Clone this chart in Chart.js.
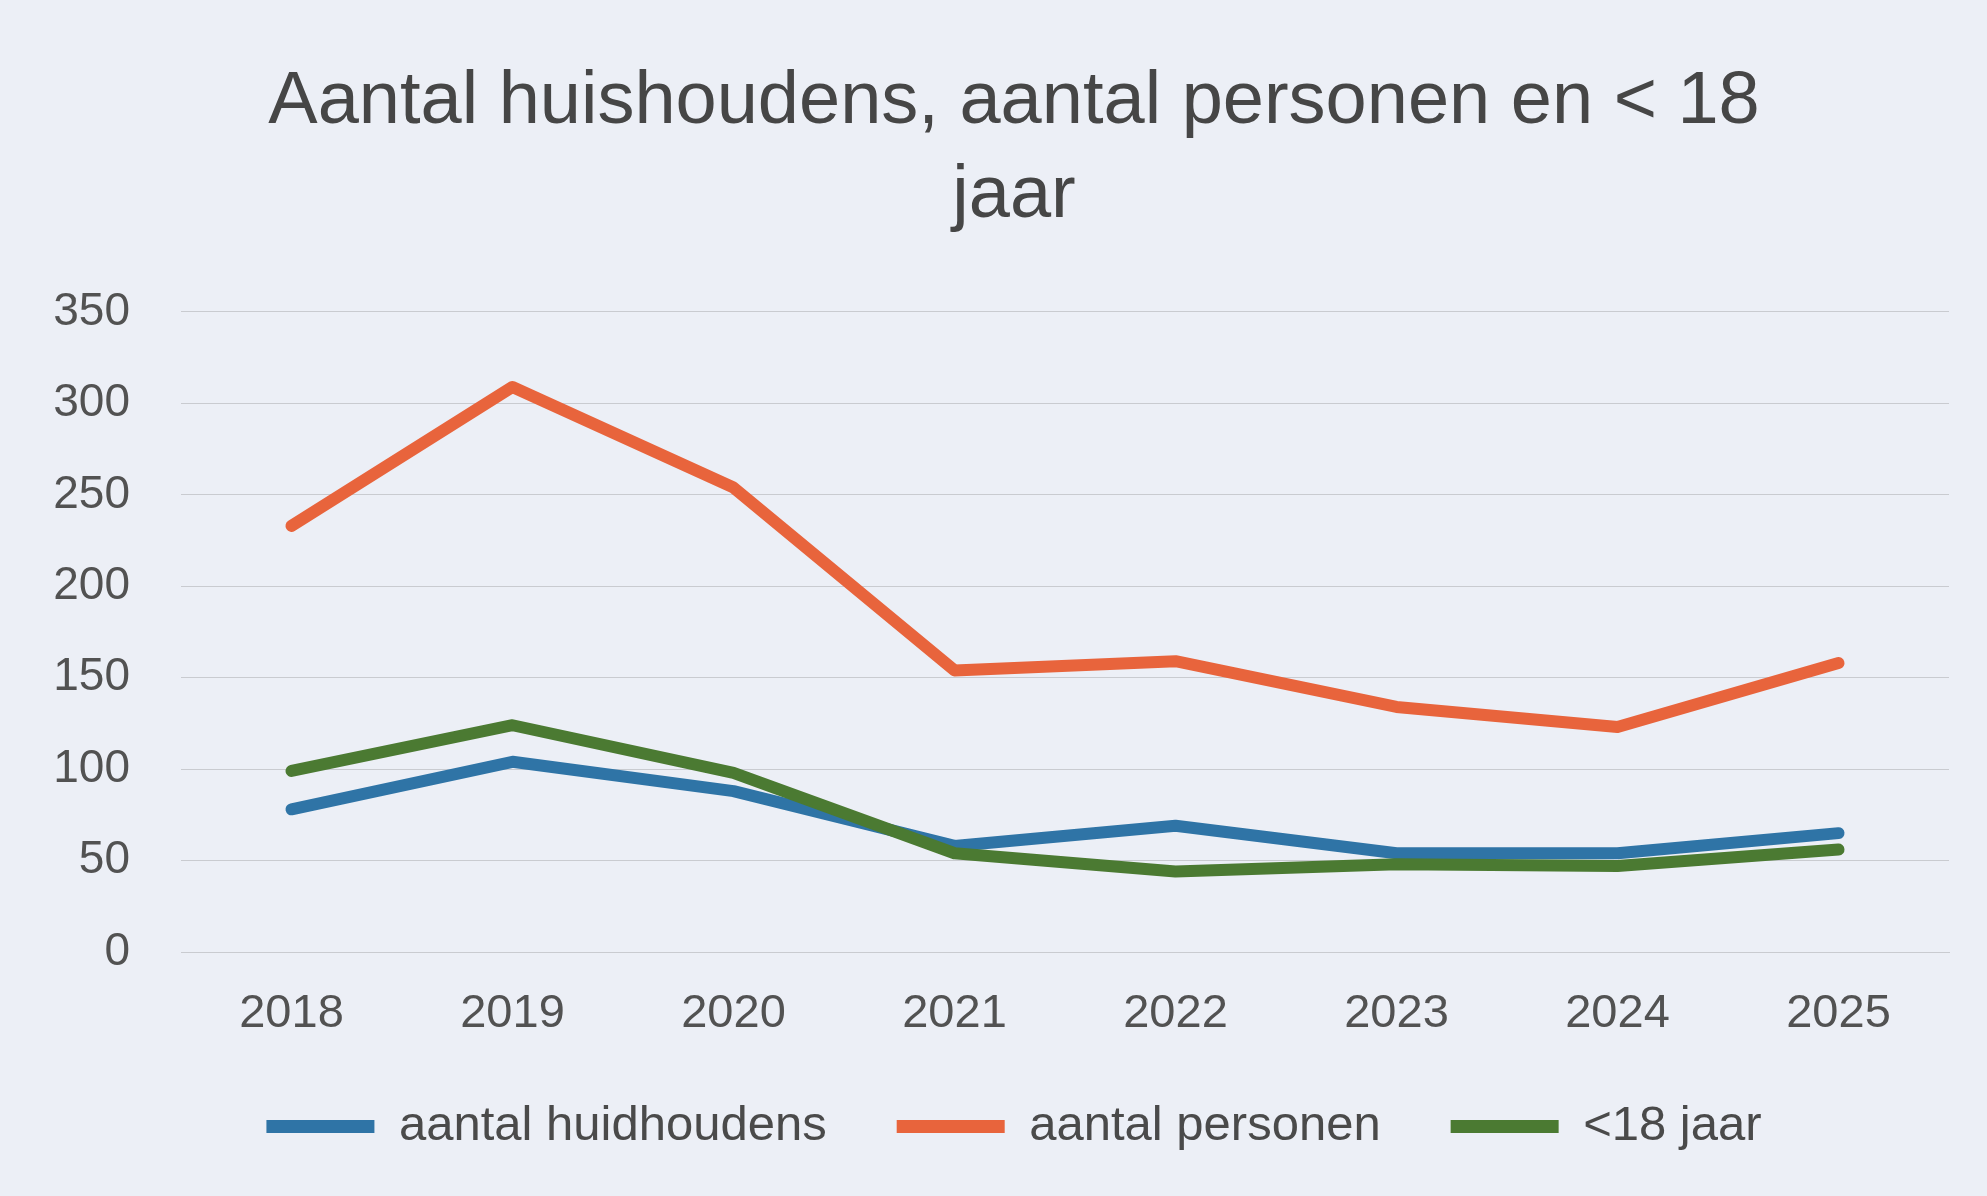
<!DOCTYPE html>
<html>
<head>
<meta charset="utf-8">
<script src="https://cdn.jsdelivr.net/npm/chart.js@4/dist/chart.umd.min.js"></script>
<style>
  html, body { margin: 0; padding: 0; background: #eceff6; }
  #wrap { width: 1987px; height: 1196px; }
</style>
</head>
<body>
<div id="wrap"><canvas id="c" width="1987" height="1196"></canvas></div>
<script>
const years = ['2018', '2019', '2020', '2021', '2022', '2023', '2024', '2025'];
const huishoudens = [78, 104, 88, 58, 69, 54, 54, 65];
const personen = [233, 309, 254, 154, 159, 134, 123, 158];
const jonger18 = [99, 124, 98, 54, 44, 48, 47, 56];
const yTicks = [0, 50, 100, 150, 200, 250, 300, 350];
const titleLines = ['Aantal huishoudens, aantal personen en < 18', 'jaar'];

const FONT = "'Liberation Sans', Arial, sans-serif";

new Chart(document.getElementById('c'), {
  type: 'line',
  data: {
    labels: years,
    datasets: [
      { label: 'aantal huidhoudens', data: huishoudens, borderColor: '#2f74a6', backgroundColor: '#2f74a6', order: 3 },
      { label: 'aantal personen', data: personen, borderColor: '#e8643c', backgroundColor: '#e8643c', order: 2 },
      { label: '<18 jaar', data: jonger18, borderColor: '#4b7a32', backgroundColor: '#4b7a32', order: 1 }
    ]
  },
  options: {
    responsive: false,
    animation: false,
    devicePixelRatio: 1,
    elements: {
      line: { borderWidth: 12, tension: 0, borderCapStyle: 'round', borderJoinStyle: 'round' },
      point: { radius: 0, hoverRadius: 0 }
    },
    layout: { padding: { left: 41, right: 0, top: 0, bottom: 35 } },
    plugins: {
      title: {
        display: true,
        text: titleLines,
        color: '#464646',
        font: { family: FONT, size: 74, weight: 'normal', lineHeight: 1.27 },
        padding: { top: 56, bottom: 68 }
      },
      legend: {
        display: true,
        position: 'bottom',
        labels: {
          color: '#4a4a4a',
          font: { family: FONT, size: 49 },
          boxWidth: 108,
          boxHeight: 13,
          padding: 70,
          sort: (a, b) => a.datasetIndex - b.datasetIndex,
          generateLabels(chart) {
            const items = Chart.defaults.plugins.legend.labels.generateLabels(chart);
            items.forEach(it => { it.lineWidth = 0; it.fillStyle = it.strokeStyle; });
            return items;
          }
        }
      },
      tooltip: { enabled: false }
    },
    scales: {
      x: {
        offset: true,
        grid: { display: false, drawTicks: false },
        border: { display: true, color: '#c9cbd0', width: 1 },
        ticks: { color: '#525252', font: { family: FONT, size: 47 }, padding: 34, maxRotation: 0 },
        afterFit(axis) { axis.height = 80; }
      },
      y: {
        min: 0,
        max: 350,
        afterBuildTicks(axis) { axis.ticks = yTicks.map(v => ({ value: v })); },
        afterFit(axis) { axis.width = 140; },
        grid: { color: '#c9cbd0', lineWidth: 1, drawTicks: false },
        border: { display: false },
        ticks: { color: '#525252', font: { family: FONT, size: 46 }, padding: 51 }
      },
      y2: {
        position: 'right',
        display: true,
        grid: { display: false, drawTicks: false },
        border: { display: false },
        ticks: { display: false },
        afterFit(axis) { axis.width = 38; }
      }
    }
  }
});
</script>
</body>
</html>
